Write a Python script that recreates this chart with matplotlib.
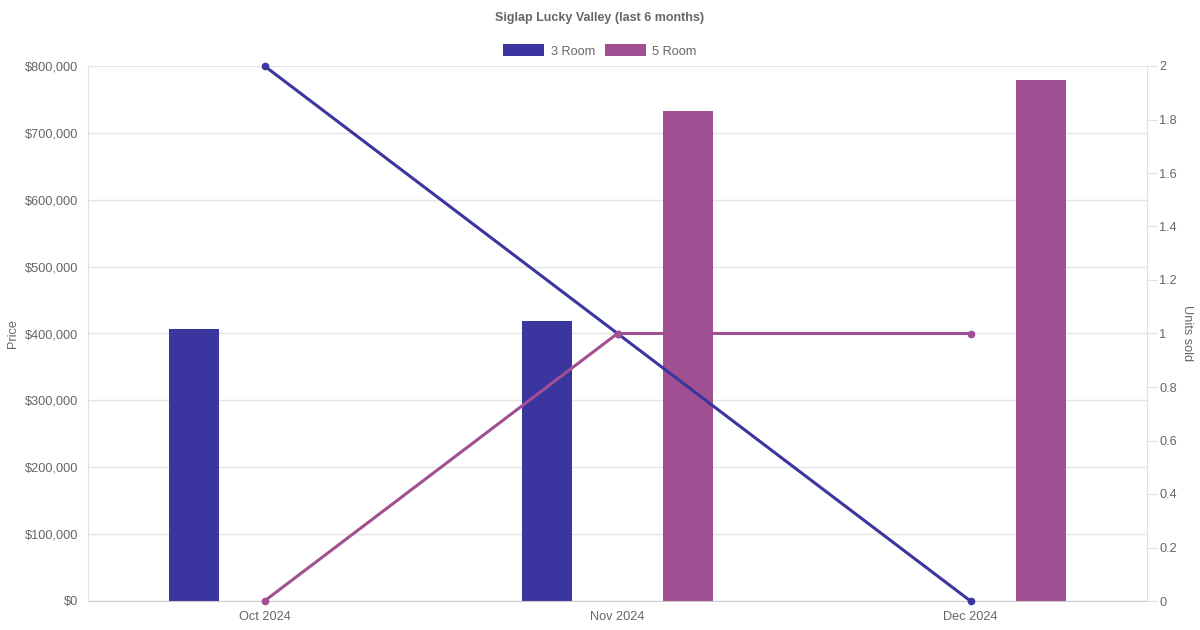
import numpy as np
import matplotlib.pyplot as plt
from matplotlib.patches import Patch
from matplotlib.ticker import FuncFormatter, MultipleLocator

plt.rcParams['font.family'] = ['Liberation Sans', 'DejaVu Sans']

months = ['Oct 2024', 'Nov 2024', 'Dec 2024']
series = ['3 Room', '5 Room']
colors = ['#3A359F', '#A05092']

# average price per month (None = no sales)
price_3room = [407000, 419000, np.nan]
price_5room = [np.nan, 733000, 779000]

# units sold per month
units_3room = [2, 1, 0]
units_5room = [0, 1, 1]

TXT = '#666666'

fig = plt.figure(figsize=(12, 6.3), dpi=100)
ax = fig.add_axes([88 / 1200, 1 - 601 / 630, (1147 - 88) / 1200, (601 - 66) / 630])
ax2 = ax.twinx()

x = np.arange(len(months))
bar_w = 0.142
offsets = [-0.2, 0.2]
for prices, off, c in zip([price_3room, price_5room], offsets, colors):
    ax.bar(x + off, prices, width=bar_w, color=c, zorder=2)

for units, c in zip([units_3room, units_5room], colors):
    ax2.plot(x, units, color=c, linewidth=2.2, marker='o', markersize=4.5,
             zorder=3, clip_on=False)

ax.set_xlim(-0.5, 2.5)
ax.set_ylim(0, 800000)
ax2.set_ylim(0, 2)

ax.set_xticks(x)
ax.set_xticklabels(months)
ax.yaxis.set_major_locator(MultipleLocator(100000))
ax.yaxis.set_major_formatter(FuncFormatter(lambda v, p: f'${v:,.0f}'))
ax2.yaxis.set_major_locator(MultipleLocator(0.2))
ax2.yaxis.set_major_formatter(FuncFormatter(lambda v, p: f'{v:.1f}'.rstrip('0').rstrip('.')))

ax.grid(axis='y', color='#e5e5e5', linewidth=1)
ax.set_axisbelow(True)
ax.tick_params(axis='y', length=0, pad=7, labelsize=9.2, labelcolor=TXT)
ax.tick_params(axis='x', length=0, pad=7, labelsize=9.2, labelcolor=TXT)
ax2.tick_params(axis='y', length=7, color='#e0e0e0', pad=2, labelsize=9.2, labelcolor=TXT)

for s in ['top']:
    ax.spines[s].set_visible(False)
    ax2.spines[s].set_visible(False)
ax.spines['left'].set_color('#e0e0e0')
ax.spines['right'].set_visible(False)
ax.spines['bottom'].set_color('#cccccc')
ax2.spines['left'].set_visible(False)
ax2.spines['bottom'].set_visible(False)
ax2.spines['right'].set_color('#e0e0e0')

ax.set_ylabel('Price', fontsize=9.2, color=TXT, labelpad=4)
ax2.set_ylabel('Units sold', fontsize=9.2, color=TXT, rotation=270, labelpad=11)

fig.text(0.5, 1 - 18 / 630, 'Siglap Lucky Valley (last 6 months)', ha='center', va='center',
         fontsize=9, fontweight='bold', color=TXT)

handles = [Patch(facecolor=c, edgecolor='none', label=s) for s, c in zip(series, colors)]
fig.legend(handles=handles, loc='center', bbox_to_anchor=(0.5, 1 - 51 / 630), ncol=2,
           frameon=False, fontsize=9.2, labelcolor=TXT, handlelength=3.2, handleheight=1.0,
           handletextpad=0.5, columnspacing=0.8)

fig.savefig('out.png', dpi=100)
